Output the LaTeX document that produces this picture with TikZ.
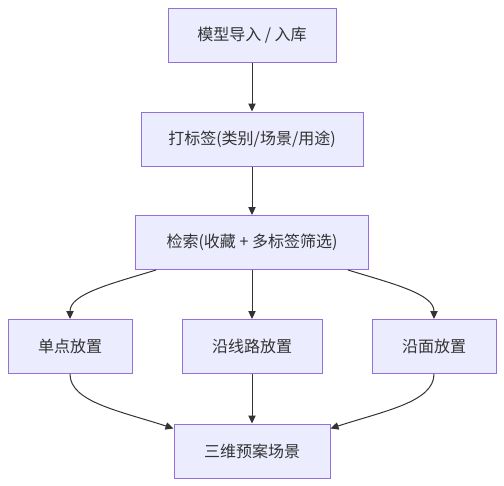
\documentclass[tikz,border=0pt]{standalone}
\usepackage{fontspec}
\setmainfont{Noto Sans CJK SC}
\usetikzlibrary{arrows.meta}
\definecolor{boxfill}{HTML}{ECECFF}
\definecolor{boxline}{HTML}{9370DB}
\definecolor{ink}{HTML}{333333}
\tikzset{
  box/.style={draw=boxline, fill=boxfill, line width=0.75pt, text=ink, font=\fontsize{12pt}{14pt}\selectfont, minimum height=40.5pt, inner sep=0pt},
  flow/.style={draw=ink, line width=0.75pt, -{Triangle[length=6pt,width=5.5pt]}}
}
\begin{document}
\begin{tikzpicture}[x=0.75pt,y=0.75pt,yscale=-1,xscale=1]
\useasboundingbox (0,0) rectangle (504,486);

\node (import) at (252,35) [box, minimum width=126pt] {模型导入 / 入库};
\node (tag) at (252,139) [box, minimum width=166.5pt] {打标签(类别/场景/用途)};
\node (search) at (252,242.5) [box, minimum width=174.75pt] {检索(收藏 + 多标签筛选)};
\node (point) at (70,346.5) [box, minimum width=93pt] {单点放置};
\node (route) at (252,346.5) [box, minimum width=105pt] {沿线路放置};
\node (surface) at (434,346.5) [box, minimum width=93pt] {沿面放置};
\node (scene) at (252,451) [box, minimum width=117pt] {三维预案场景};

\draw[flow] (import) -- (tag);
\draw[flow] (tag) -- (search);
\draw[flow] (search.196) .. controls (110,284) and (70,294) .. (point.north);
\draw[flow] (search) -- (route);
\draw[flow] (search.344) .. controls (394,284) and (434,294) .. (surface.north);
\draw[flow] (point.south) .. controls (70,402) and (120,411) .. (scene.164);
\draw[flow] (route) -- (scene);
\draw[flow] (surface.south) .. controls (434,402) and (384,411) .. (scene.16);
\end{tikzpicture}
\end{document}
